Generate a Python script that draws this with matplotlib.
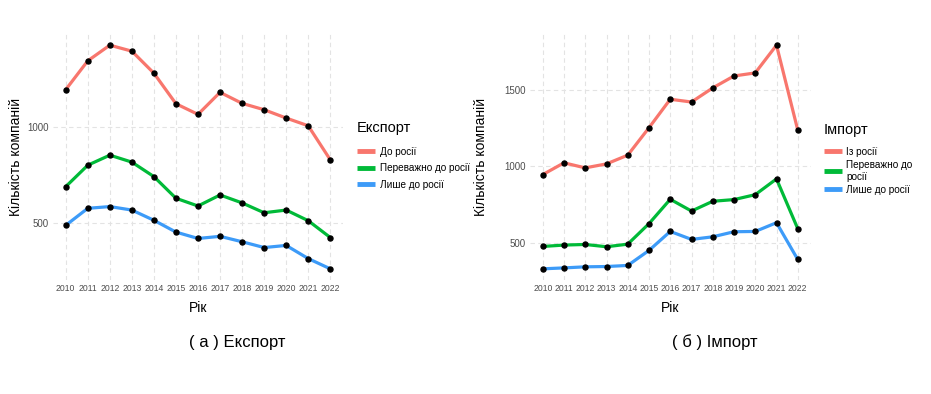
import matplotlib
matplotlib.use("Agg")
from matplotlib import pyplot as plt

plt.rcParams['font.family'] = ['Liberation Sans', 'DejaVu Sans']

years = list(range(2010, 2023))

# Експорт
export_to = [1192, 1341, 1422, 1391, 1277, 1119, 1064, 1178, 1121, 1088, 1045, 1005, 829]
export_mostly = [690, 801, 853, 817, 742, 630, 590, 647, 606, 555, 569, 514, 427]
export_only = [490, 578, 587, 569, 516, 455, 422, 433, 405, 375, 386, 318, 265]
export_labels = ["До росії", "Переважно до росії", "Лише до росії"]

# Імпорт
import_from = [945, 1022, 989, 1015, 1072, 1251, 1437, 1419, 1511, 1589, 1609, 1790, 1236]
import_mostly = [476, 485, 489, 474, 491, 625, 784, 707, 771, 782, 814, 917, 592]
import_only = [330, 336, 343, 345, 352, 450, 574, 522, 539, 572, 574, 631, 391]
import_labels = ["Із росії", "Переважно до\nросії", "Лише до росії"]

colors = ["#F8766D", "#00BA38", "#3D9BF8"]

W, H = 931, 394
fig = plt.figure(figsize=(W / 100, H / 100), dpi=100)


def px(x, y):
    # pixel position (top-left origin) -> figure fraction
    return x / W, 1 - y / H


def make_axes(left, right, top, bottom):
    return fig.add_axes([left / W, 1 - bottom / H, (right - left) / W, (bottom - top) / H])


def draw_panel(ax, series, labels, title, yticks, ylab_x, leg_x, leg_title_y, leg_y, spacing):
    for vals, lab, col in zip(series, labels, colors):
        ax.plot(years, vals, color=col, lw=2.3, label=lab, solid_capstyle='butt')
        ax.plot(years, vals, 'o', color='black', ms=3.6, zorder=5)

    allv = [v for s in series for v in s]
    lo, hi = min(allv), max(allv)
    pad = (hi - lo) * 0.05
    ax.set_ylim(lo - pad, hi + pad)
    ax.set_xlim(2009.4, 2022.6)
    ax.set_xticks(years)
    ax.set_xticklabels([str(y) for y in years], fontsize=6.2, color='#4d4d4d')
    ax.set_yticks(yticks)
    ax.set_yticklabels([str(t) for t in yticks], fontsize=7, color='#4d4d4d')
    ax.tick_params(length=0, pad=3)
    ax.grid(True, color='#e3e3e3', lw=0.8, ls=(0, (4, 3)))
    for s in ax.spines.values():
        s.set_visible(False)
    ax.set_xlabel("Рік", fontsize=10, labelpad=6)
    ax.set_ylabel("Кількість компаній", fontsize=10)
    ax.yaxis.set_label_coords(ylab_x, 0.5)

    fig.text(*px(leg_x, leg_title_y), title, fontsize=10.5, ha='left', va='center')
    leg = ax.legend(loc='upper left', bbox_to_anchor=px(leg_x, leg_y),
                    bbox_transform=fig.transFigure, borderpad=0, borderaxespad=0,
                    frameon=False, fontsize=7.2,
                    handlelength=1.8, handletextpad=0.45, labelspacing=spacing)
    for line in leg.get_lines():
        line.set_linewidth(3.5)
    return ax


ax1 = make_axes(52.5, 343.5, 34, 280)
draw_panel(ax1, [export_to, export_mostly, export_only], export_labels, "Експорт",
           [500, 1000], -0.101, 357, 128, 147, 0.65)

ax2 = make_axes(530, 810.5, 34, 280)
draw_panel(ax2, [import_from, import_mostly, import_only], import_labels, "Імпорт",
           [500, 1000, 1500], -0.150, 824, 130, 147, 0.3)

fig.text(*px(237, 342), "( а ) Експорт", fontsize=12, ha='center', va='center')
fig.text(*px(715, 342), "( б ) Імпорт", fontsize=12, ha='center', va='center')

fig.savefig("out.png", dpi=100, facecolor='white')
